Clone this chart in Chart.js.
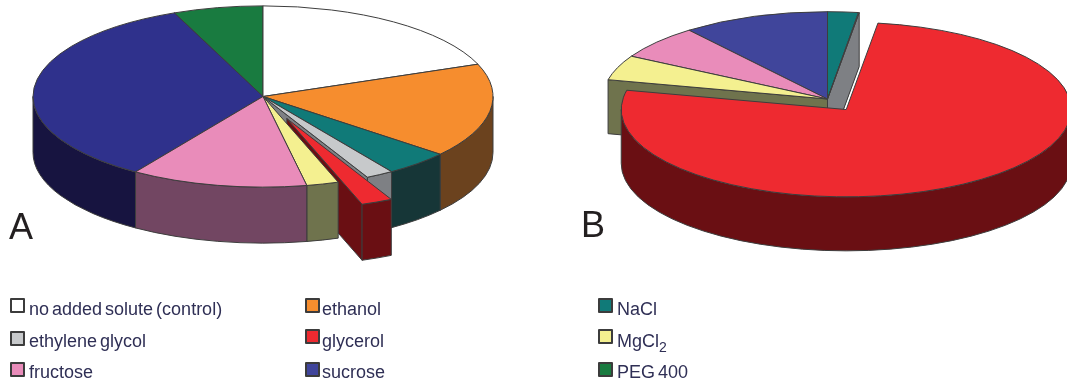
<!DOCTYPE html>
<html>
<head>
<meta charset="utf-8">
<script src="https://cdn.jsdelivr.net/npm/chart.js@4"></script>
<style>
  html, body { margin: 0; padding: 0; background: #fff; width: 1067px; height: 389px; overflow: hidden; }
  #stage { position: relative; width: 1067px; height: 389px; font-family: "Liberation Sans", Arial, sans-serif; }
  .pie { position: absolute; top: 0; height: 300px; }
  #wrapA { left: 0; width: 526px; }
  #wrapB { left: 533px; width: 534px; }
  .panel { position: absolute; font-size: 36px; line-height: 36px; color: #231f20; }
  #legend { position: absolute; left: 0; top: 0; width: 1067px; height: 389px; filter: blur(0.5px); }
  .key { position: absolute; width: 11px; height: 11px; border: 2px solid #3c3c3c; border-radius: 1px; }
  .name { position: absolute; font-size: 18px; line-height: 18px; word-spacing: -2px; color: #2f2f55; white-space: nowrap; }
  .name sub { font-size: 14px; line-height: 0; }
</style>
</head>
<body>
<div id="stage">
  <div class="pie" id="wrapA"><canvas id="pieA"></canvas></div>
  <div class="pie" id="wrapB"><canvas id="pieB"></canvas></div>
  <div class="panel" style="left:9px;top:209px">A</div>
  <div class="panel" style="left:581px;top:207px">B</div>
  <div id="legend"></div>
</div>
<script>
// Solutes, in the order they are stacked clockwise from twelve o'clock
const solutes = ['no added solute (control)', 'ethanol', 'NaCl', 'ethylene glycol', 'glycerol', 'MgCl2', 'fructose', 'sucrose', 'PEG 400'];

// Share of each solute, percent
const sharesA = [19.2, 16.8, 4.56, 1.94, 2.2, 2.25, 12.4, 34.35, 6.3];
const sharesB = [0, 0, 2.2, 0.05, 76.3, 4.6, 6.3, 10.55, 0];

// Distance each slice is pulled out of its pie
const pullA = [0, 0, 0, 0, 61, 0, 0, 0, 0];
const pullB = [0, 0, 0, 0, 33, 0, 0, 0, 0];

const topColours = ['#ffffff', '#f68d2e', '#107a78', '#c7c9cb', '#ee2a30', '#f4f090', '#e98cba', '#2f318c', '#197b40'];
const topColoursB = ['#ffffff', '#f68d2e', '#107a78', '#c7c9cb', '#ee2a30', '#f4f090', '#e98cba', '#40459b', '#197b40'];
const sideColours = ['#7f7f7f', '#6b421e', '#163637', '#7e8084', '#6a0f13', '#6f734d', '#724662', '#171440', '#0c3d20'];

// Draws each arc as a flattened prism, using the angles and radii Chart.js computed
const tiltedPie = {
  id: 'tiltedPie',
  beforeDatasetDraw(chart) {
    const { ctx } = chart;
    const { squash, depth, line } = chart.options.plugins.tiltedPie;
    const sides = chart.data.datasets[0].sideColors;
    const arcs = chart.getDatasetMeta(0).data
      .map((arc, index) => ({ arc, index }))
      .filter(({ arc }) => arc.circumference > 0)
      .sort((p, q) =>
        Math.sin((p.arc.startAngle + p.arc.endAngle) / 2) -
        Math.sin((q.arc.startAngle + q.arc.endAngle) / 2));

    ctx.save();
    ctx.lineWidth = 1;
    ctx.lineJoin = 'round';
    ctx.strokeStyle = line;

    for (const { arc, index } of arcs) {
      const a0 = arc.startAngle, a1 = arc.endAngle, r = arc.outerRadius;
      const mid = (a0 + a1) / 2;
      const pull = arc.options.offset || 0;
      const cx = arc.x + Math.cos(mid) * pull;
      const cy = arc.y + Math.sin(mid) * pull * squash;
      const rim = a => [cx + r * Math.cos(a), cy + r * squash * Math.sin(a)];
      const fillStroke = colour => { ctx.fillStyle = colour; ctx.fill(); ctx.stroke(); };

      // Cut faces that look towards the viewer
      for (const [a, normal] of [[a0, a0 - Math.PI / 2], [a1, a1 + Math.PI / 2]]) {
        if (Math.sin(normal) <= 0) continue;
        const [x, y] = rim(a);
        ctx.beginPath();
        ctx.moveTo(cx, cy);
        ctx.lineTo(x, y);
        ctx.lineTo(x, y + depth);
        ctx.lineTo(cx, cy + depth);
        ctx.closePath();
        fillStroke(sides[index]);
      }

      // Rim wall: the part of the arc on the near half of the ellipse
      const turns = Math.ceil(a0 / (2 * Math.PI));
      const base = turns * 2 * Math.PI;
      for (const k of [-1, 0, 1]) {
        const from = Math.max(a0, base + k * 2 * Math.PI);
        const to = Math.min(a1, base + k * 2 * Math.PI + Math.PI);
        if (to <= from) continue;
        ctx.beginPath();
        ctx.ellipse(cx, cy, r, r * squash, 0, from, to);
        ctx.ellipse(cx, cy + depth, r, r * squash, 0, to, from, true);
        ctx.closePath();
        fillStroke(sides[index]);
      }

      // Top face
      ctx.beginPath();
      ctx.moveTo(cx, cy);
      ctx.ellipse(cx, cy, r, r * squash, 0, a0, a1);
      ctx.closePath();
      fillStroke(arc.options.backgroundColor);
    }
    ctx.restore();
    return false;
  }
};

function drawPie(canvasId, shares, pull, colours, radius, squash, depth, padding) {
  return new Chart(document.getElementById(canvasId), {
    type: 'pie',
    data: {
      labels: solutes,
      datasets: [{
        data: shares,
        offset: pull,
        backgroundColor: colours,
        sideColors: sideColours,
        borderWidth: 0
      }]
    },
    options: {
      responsive: true,
      maintainAspectRatio: false,
      animation: false,
      radius,
      layout: { padding },
      plugins: {
        legend: { display: false },
        tooltip: { enabled: false },
        tiltedPie: { squash, depth, line: '#3d3d3d' }
      }
    },
    plugins: [tiltedPie]
  });
}

drawPie('pieA', sharesA, pullA, topColours, 230, 0.394, 56, { bottom: 107 });
drawPie('pieB', sharesB, pullB, topColoursB, 225, 0.388, 54, { left: 55, bottom: 102 });

// Legend, three columns by three rows
const keyColumns = [10, 305, 598];
const keyRows = [[298, 331, 362], [298, 329, 362], [298, 329, 362]];
const nameColumns = [29, 322, 617];
const nameRows = [300, 331.5, 362.7];
const legendRoot = document.getElementById('legend');
solutes.forEach((solute, i) => {
  const col = i % 3, row = Math.floor(i / 3);
  const key = document.createElement('div');
  key.className = 'key';
  key.style.left = keyColumns[col] + 'px';
  key.style.top = keyRows[col][row] + 'px';
  key.style.background = topColoursB[i];
  const name = document.createElement('div');
  name.className = 'name';
  name.style.left = nameColumns[col] + 'px';
  name.style.top = nameRows[row] + 'px';
  name.innerHTML = solute.replace('MgCl2', 'MgCl<sub>2</sub>');
  legendRoot.append(key, name);
});
</script>
</body>
</html>
